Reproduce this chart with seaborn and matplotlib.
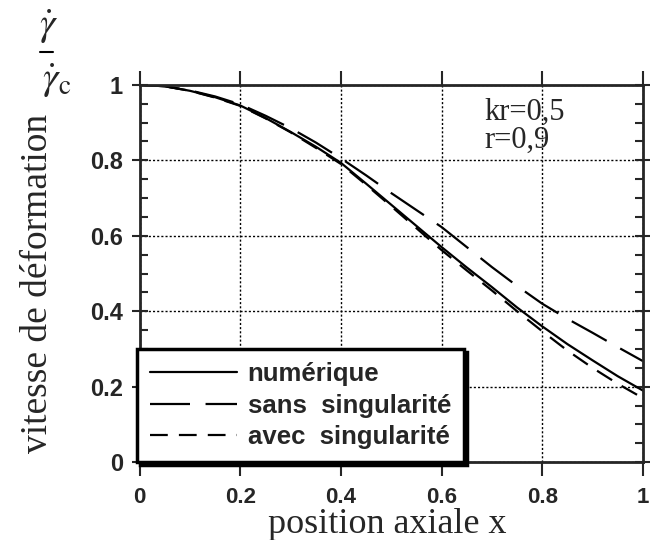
import matplotlib
matplotlib.use('Agg')
import matplotlib.pyplot as plt
import seaborn as sns
import numpy as np

# positions le long de l'axe
position = [0.0, 0.05, 0.1, 0.15, 0.2, 0.25, 0.3, 0.35, 0.4, 0.45, 0.5,
            0.55, 0.6, 0.65, 0.7, 0.75, 0.8, 0.85, 0.9, 0.95, 1.0]

numerique = [1.000, 0.996, 0.984, 0.967, 0.945, 0.912, 0.875, 0.836, 0.793,
             0.738, 0.682, 0.626, 0.570, 0.516, 0.464, 0.410, 0.360, 0.313,
             0.270, 0.228, 0.190]
sans_sing = [1.000, 0.996, 0.985, 0.969, 0.948, 0.918, 0.885, 0.847, 0.805,
             0.760, 0.713, 0.668, 0.623, 0.570, 0.517, 0.467, 0.420, 0.380,
             0.343, 0.305, 0.268]
avec_sing = [1.000, 0.996, 0.984, 0.966, 0.944, 0.911, 0.874, 0.833, 0.790,
             0.735, 0.678, 0.620, 0.562, 0.508, 0.455, 0.400, 0.347, 0.296,
             0.250, 0.208, 0.170]

labels = ['numérique', 'sans  singularité', 'avec  singularité']
ticks = [0, 0.2, 0.4, 0.6, 0.8, 1]
tick_labels = ['0', '0.2', '0.4', '0.6', '0.8', '1']

sns.set_style('ticks')
plt.rcParams['font.family'] = ['Liberation Sans', 'DejaVu Sans']
plt.rcParams['mathtext.fontset'] = 'stix'

fig = plt.figure(figsize=(6.5, 5.4), dpi=100)
ax = fig.add_axes([0.215, 0.144, 0.774, 0.699])

sns.lineplot(x=position, y=numerique, ax=ax, color='black', lw=1.6,
             label=labels[0])
sns.lineplot(x=position, y=sans_sing, ax=ax, color='black', lw=1.6,
             linestyle=(0, (18, 7)), label=labels[1])
sns.lineplot(x=position, y=avec_sing, ax=ax, color='black', lw=1.6,
             linestyle=(0, (8, 5)), label=labels[2])

ax.set_xlim(0, 1)
ax.set_ylim(0, 1)
ax.set_xticks(ticks)
ax.set_xticklabels(tick_labels)
ax.set_yticks(ticks)
ax.set_yticklabels(tick_labels)
ax.set_yticks(np.arange(0, 1.001, 0.05), minor=True)
ax.grid(True, which='major', color='black', linestyle=(0, (1.5, 1.5)), lw=1)

for s in ax.spines.values():
    s.set_linewidth(2)
    s.set_visible(True)

ax.tick_params(axis='x', which='major', direction='out', length=10, width=1.5,
               top=True, bottom=True, labelsize=16, pad=8)
ax.tick_params(axis='y', which='major', direction='inout', length=12, width=1.5,
               left=True, right=True, labelsize=17, pad=6)
ax.tick_params(axis='y', which='minor', direction='in', length=6, width=1.5,
               left=True, right=True)
for t in ax.get_xticklabels() + ax.get_yticklabels():
    t.set_fontweight('bold')

leg = ax.legend(loc='lower left', bbox_to_anchor=(-0.005, 0.0), borderaxespad=0,
                fancybox=False, shadow={'color': 'black', 'alpha': 1},
                edgecolor='black', framealpha=1, handlelength=3.4,
                labelspacing=0.3, handletextpad=0.4, borderpad=0.5,
                prop={'size': 18.5, 'weight': 'bold'})
leg.get_frame().set_linewidth(2.5)

ax.text(0.686, 0.965, 'kr=0,5\nr=0,9', transform=ax.transData, va='top',
        ha='left', family='Liberation Serif', fontsize=22, linespacing=0.95)

fig.text(0.058, 0.475, 'vitesse de déformation', rotation=90, ha='center',
         va='center', family='Liberation Serif', fontsize=27)
fig.text(0.596, 0.028, 'position axiale x', ha='center', va='center',
         family='Liberation Serif', fontsize=26)

# gamma point / gamma point c
fig.text(0.075, 0.95, r'$\dot{\gamma}$', ha='center', va='center',
         fontsize=28)
fig.add_artist(plt.Line2D([0.062, 0.082], [0.904, 0.904], color='black',
                          lw=1.5, transform=fig.transFigure))
fig.text(0.088, 0.85, r'$\dot{\gamma}_{\mathrm{c}}$', ha='center',
         va='center', fontsize=28)

plt.savefig('out.png', dpi=100)
